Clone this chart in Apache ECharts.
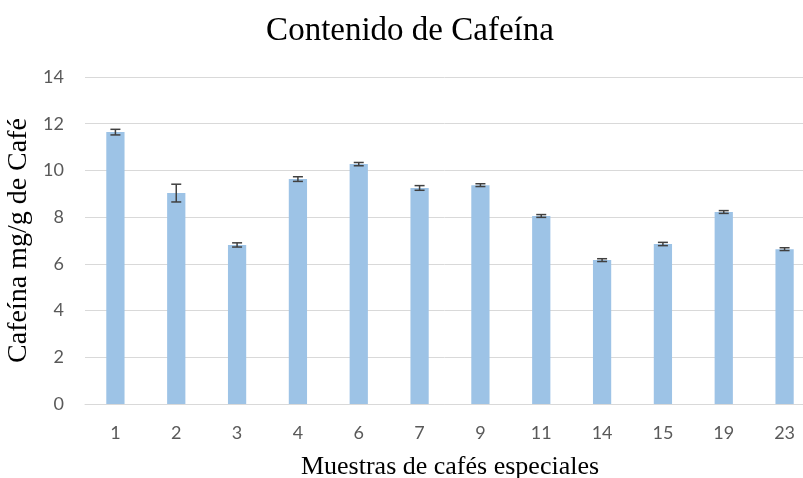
<!DOCTYPE html>
<html><head><meta charset="utf-8">
<script src="https://cdn.jsdelivr.net/npm/echarts@6/dist/echarts.min.js"></script>
<style>html,body{margin:0;padding:0;background:#fff}#c{width:803px;height:478px}</style>
</head><body><div id="c"></div>
<script>
const categories = ['1','2','3','4','6','7','9','11','14','15','19','23'];
const values = [11.64, 9.03, 6.81, 9.63, 10.27, 9.25, 9.37, 8.05, 6.16, 6.85, 8.22, 6.63];
const errors = [0.12, 0.38, 0.09, 0.10, 0.07, 0.10, 0.06, 0.06, 0.06, 0.07, 0.06, 0.06];
const yTicks = [0, 2, 4, 6, 8, 10, 12, 14];

const chart = echarts.init(document.getElementById('c'));
chart.setOption({
  animation: false,
  title: {
    text: 'Contenido de Cafeína', left: 405, top: 10, textAlign: 'center',
    textStyle: {fontFamily: 'Liberation Serif', fontSize: 33, fontWeight: 'normal', color: '#000'}
  },
  grid: {left: 85, width: 730, top: 77, height: 327, outerBoundsMode: 'none', containLabel: false},
  xAxis: {
    type: 'category', data: categories,
    axisLine: {lineStyle: {color: '#d9d9d9', width: 1}},
    axisTick: {show: false},
    axisLabel: {color: '#595959', fontFamily: 'Lato', fontSize: 18, margin: 20},
    name: 'Muestras de cafés especiales', nameLocation: 'middle', nameGap: 50,
    nameTextStyle: {fontFamily: 'Liberation Serif', fontSize: 26, color: '#000', padding: [0, 0, 0, 0]}
  },
  yAxis: {
    type: 'value', min: yTicks[0], max: yTicks[yTicks.length - 1], interval: 2,
    axisLine: {show: false}, axisTick: {show: false},
    splitLine: {lineStyle: {color: '#d9d9d9', width: 1}},
    axisLabel: {color: '#595959', fontFamily: 'Lato', fontSize: 18, margin: 21},
    name: 'Cafeína mg/g de Café', nameLocation: 'middle', nameGap: 44,
    nameTextStyle: {fontFamily: 'Liberation Serif', fontSize: 28, color: '#000'}
  },
  series: [
    {type: 'bar', data: values, barWidth: '30%', itemStyle: {color: '#9dc3e6'}},
    {
      type: 'custom', z: 5,
      data: values.map((v, i) => [i, v - errors[i], v + errors[i]]),
      renderItem: function (params, api) {
        const lo = api.coord([api.value(0), api.value(1)]);
        const hi = api.coord([api.value(0), api.value(2)]);
        const hw = 5;
        const st = {stroke: '#404040', lineWidth: 1.5};
        return {type: 'group', children: [
          {type: 'line', shape: {x1: lo[0], y1: lo[1], x2: hi[0], y2: hi[1]}, style: st},
          {type: 'line', shape: {x1: lo[0] - hw, y1: lo[1], x2: lo[0] + hw, y2: lo[1]}, style: st},
          {type: 'line', shape: {x1: hi[0] - hw, y1: hi[1], x2: hi[0] + hw, y2: hi[1]}, style: st}
        ]};
      }
    }
  ]
});
</script></body></html>
